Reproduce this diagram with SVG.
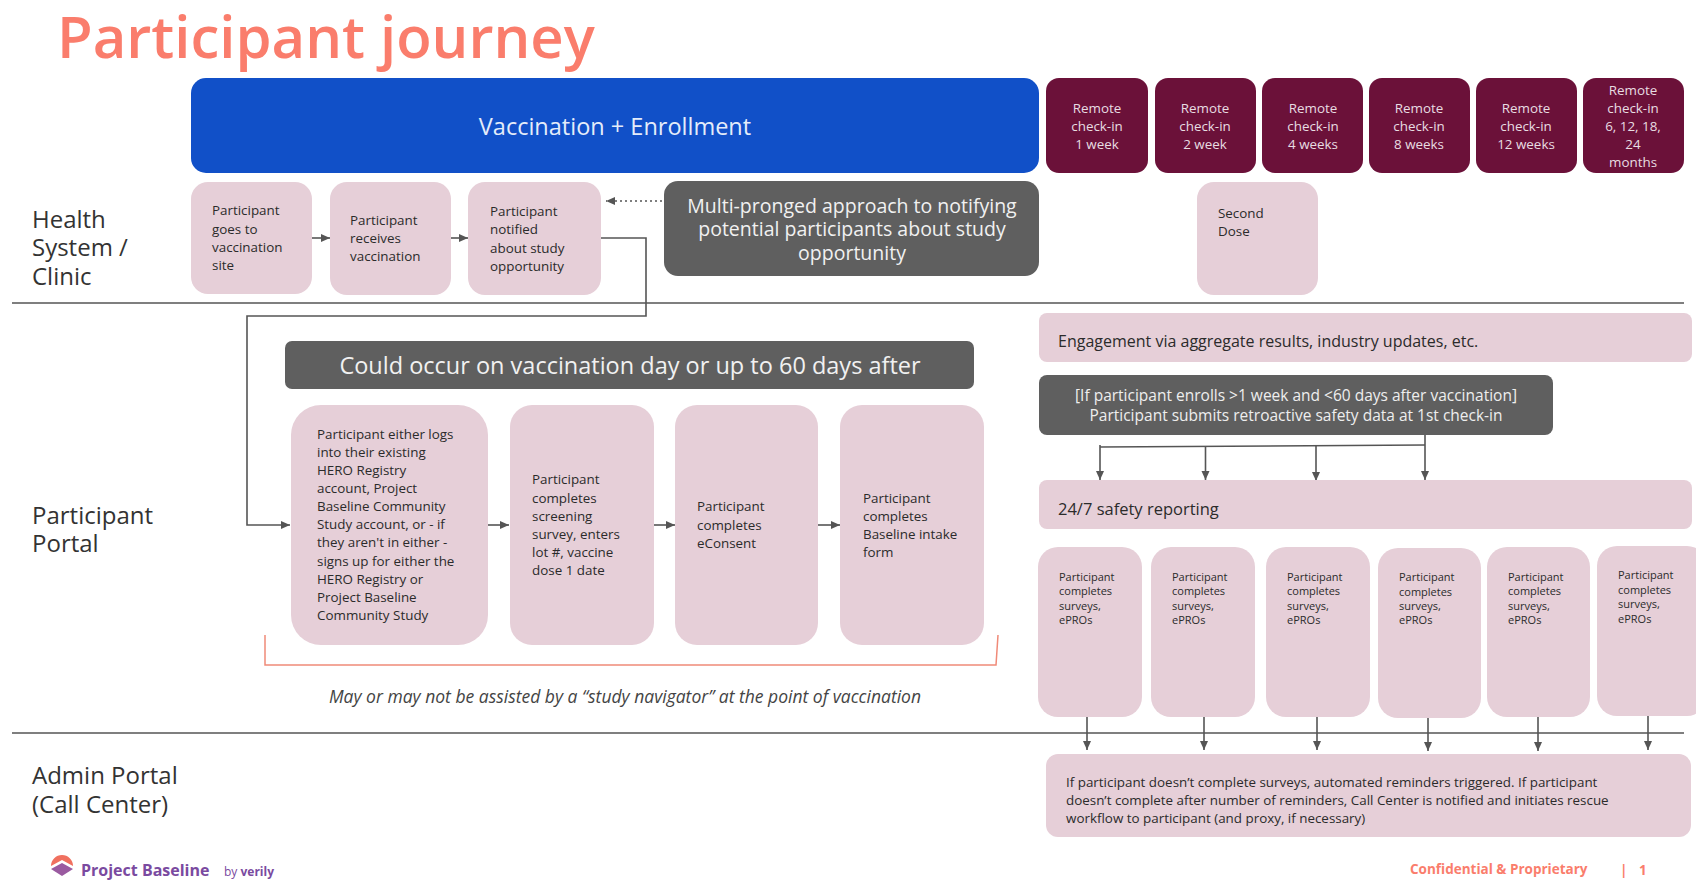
<svg xmlns="http://www.w3.org/2000/svg" width="1696" height="883" viewBox="0 0 1696 883">
<style>
text{font-family:"Open Sans","Noto Sans","Liberation Sans",sans-serif;fill:#2b2b2b}
.p{fill:#e6cfd8}.d{fill:#5f5f5f}.m{fill:#6b1139}
.w{fill:#f1f1f1}.t13{font-size:13.4px}.t11{font-size:11px}.t14{font-size:14.5px}
.lab{font-size:24px;fill:#333}
.c{fill:none;stroke:#555;stroke-width:1.6}
.ci{font-size:13.4px;fill:#e8dde2;text-anchor:middle}
</style>
<defs>
<marker id="a" markerUnits="userSpaceOnUse" markerWidth="10" markerHeight="10" refX="9" refY="4" orient="auto"><path d="M0 0L9 4L0 8Z" fill="#555"/></marker>
</defs>
<text x="57" y="58" font-size="58" font-weight="600" style="fill:#fa7d6c">Participant journey</text>
<g id="lanes"><path d="M12 303H1684M12 733H1684" stroke="#555" stroke-width="1.3" fill="none"/>
<text class="lab" x="32" y="228">Health</text><text class="lab" x="32" y="256">System /</text><text class="lab" x="32" y="285">Clinic</text>
<text class="lab" x="32" y="524">Participant</text><text class="lab" x="32" y="552">Portal</text>
<text class="lab" x="32" y="784">Admin Portal</text><text class="lab" x="32" y="813">(Call Center)</text></g>
<g id="connectors">
<path class="c" marker-end="url(#a)" d="M311 238H330"/>
<path class="c" marker-end="url(#a)" d="M451 238H468"/>
<path class="c" stroke-dasharray="2 3" marker-end="url(#a)" d="M662 201H606"/>
<path class="c" marker-end="url(#a)" d="M601 238H646V316H247V525H290"/>
<path class="c" marker-end="url(#a)" d="M488 525H509"/>
<path class="c" marker-end="url(#a)" d="M653 525H675"/>
<path class="c" marker-end="url(#a)" d="M818 525H840"/>
<path class="c" marker-end="url(#a)" d="M1425 434V480"/>
<path class="c" d="M1100 447L1425 445"/>
<path class="c" marker-end="url(#a)" d="M1100 445V480"/>
<path class="c" marker-end="url(#a)" d="M1205.500 447V480"/>
<path class="c" marker-end="url(#a)" d="M1316 446V481"/>
<path class="c" marker-end="url(#a)" d="M1087 716V750"/>
<path class="c" marker-end="url(#a)" d="M1204 716V750"/>
<path class="c" marker-end="url(#a)" d="M1317 716V750"/>
<path class="c" marker-end="url(#a)" d="M1428 716V751"/>
<path class="c" marker-end="url(#a)" d="M1538 716V751"/>
<path class="c" marker-end="url(#a)" d="M1648 716V750"/>
<path d="M265 635V665H996L998 635" fill="none" stroke="#f08a78" stroke-width="1.5"/>
</g>
<g id="vaccination"><rect x="191" y="78" width="848" height="95" rx="15" fill="#1150c8"/><text x="615" y="135" text-anchor="middle" font-size="23.500" style="fill:#e4ecfa">Vaccination + Enrollment</text></g>
<g id="ci1"><rect class="m" x="1046" y="78" width="102" height="95" rx="13"/><text class="ci"><tspan x="1097" y="113">Remote</tspan><tspan x="1097" y="131">check-in</tspan><tspan x="1097" y="149">1 week</tspan></text></g>
<g id="ci2"><rect class="m" x="1155" y="78" width="101" height="95" rx="13"/><text class="ci"><tspan x="1205" y="113">Remote</tspan><tspan x="1205" y="131">check-in</tspan><tspan x="1205" y="149">2 week</tspan></text></g>
<g id="ci3"><rect class="m" x="1262" y="78" width="101" height="95" rx="13"/><text class="ci"><tspan x="1313" y="113">Remote</tspan><tspan x="1313" y="131">check-in</tspan><tspan x="1313" y="149">4 weeks</tspan></text></g>
<g id="ci4"><rect class="m" x="1369" y="78" width="101" height="95" rx="13"/><text class="ci"><tspan x="1419" y="113">Remote</tspan><tspan x="1419" y="131">check-in</tspan><tspan x="1419" y="149">8 weeks</tspan></text></g>
<g id="ci5"><rect class="m" x="1476" y="78" width="101" height="95" rx="13"/><text class="ci"><tspan x="1526" y="113">Remote</tspan><tspan x="1526" y="131">check-in</tspan><tspan x="1526" y="149">12 weeks</tspan></text></g>
<g id="ci6"><rect class="m" x="1583" y="78" width="101" height="95" rx="13"/><text class="ci"><tspan x="1633" y="95">Remote</tspan><tspan x="1633" y="113">check-in</tspan><tspan x="1633" y="131">6, 12, 18,</tspan><tspan x="1633" y="149">24</tspan><tspan x="1633" y="167">months</tspan></text></g>
<g id="n1"><rect class="p" x="191" y="182" width="121" height="112" rx="17"/><text class="t13"><tspan x="212" y="215">Participant</tspan><tspan x="212" y="234">goes to</tspan><tspan x="212" y="252">vaccination</tspan><tspan x="212" y="270">site</tspan></text></g>
<g id="n2"><rect class="p" x="330" y="182" width="121" height="113" rx="17"/><text class="t13"><tspan x="350" y="225">Participant</tspan><tspan x="350" y="243">receives</tspan><tspan x="350" y="261">vaccination</tspan></text></g>
<g id="n3"><rect class="p" x="468" y="182" width="133" height="113" rx="17"/><text class="t13"><tspan x="490" y="216">Participant</tspan><tspan x="490" y="234">notified</tspan><tspan x="490" y="253">about study</tspan><tspan x="490" y="271">opportunity</tspan></text></g>
<g id="notify"><rect class="d" x="664" y="181" width="375" height="95" rx="14"/><text font-size="19.500" text-anchor="middle" class="w" style="fill:#f1f1f1"><tspan x="852" y="213">Multi-pronged approach to notifying</tspan><tspan x="852" y="236">potential participants about study</tspan><tspan x="852" y="260">opportunity</tspan></text></g>
<g id="dose2"><rect class="p" x="1197" y="182" width="121" height="113" rx="17"/><text class="t13"><tspan x="1218" y="218">Second</tspan><tspan x="1218" y="236">Dose</tspan></text></g>
<g id="bar"><rect class="d" x="285" y="341" width="689" height="48" rx="7"/><text x="630" y="374" text-anchor="middle" font-size="23.500" style="fill:#f1f1f1">Could occur on vaccination day or up to 60 days after</text></g>
<g id="p1"><rect class="p" x="291" y="405" width="197" height="240" rx="30"/><text class="t13"><tspan x="317" y="439">Participant either logs</tspan><tspan x="317" y="457">into their existing</tspan><tspan x="317" y="475">HERO  Registry</tspan><tspan x="317" y="493">account, Project</tspan><tspan x="317" y="511">Baseline Community</tspan><tspan x="317" y="529">Study account,  or - if</tspan><tspan x="317" y="547">they aren't in either -</tspan><tspan x="317" y="566">signs up for either the</tspan><tspan x="317" y="584">HERO Registry or</tspan><tspan x="317" y="602">Project Baseline</tspan><tspan x="317" y="620">Community Study</tspan></text></g>
<g id="p2"><rect class="p" x="510" y="405" width="144" height="240" rx="22"/><text class="t13"><tspan x="532" y="484">Participant</tspan><tspan x="532" y="503">completes</tspan><tspan x="532" y="521">screening</tspan><tspan x="532" y="539">survey, enters</tspan><tspan x="532" y="557">lot #, vaccine</tspan><tspan x="532" y="575">dose 1 date</tspan></text></g>
<g id="p3"><rect class="p" x="675" y="405" width="143" height="240" rx="22"/><text class="t13"><tspan x="697" y="511">Participant</tspan><tspan x="697" y="530">completes</tspan><tspan x="697" y="548">eConsent</tspan></text></g>
<g id="p4"><rect class="p" x="840" y="405" width="144" height="240" rx="22"/><text class="t13"><tspan x="863" y="503">Participant</tspan><tspan x="863" y="521">completes</tspan><tspan x="863" y="539">Baseline intake</tspan><tspan x="863" y="557">form</tspan></text></g>
<text x="625" y="703" text-anchor="middle" font-size="17.500" font-style="italic" style="fill:#444">May or may not be assisted by a “study navigator” at the point of vaccination</text>
<g id="engage"><rect class="p" x="1039" y="313" width="653" height="49" rx="8"/><text x="1058" y="347" font-size="16">Engagement via aggregate results, industry updates, etc.</text></g>
<g id="retro"><rect class="d" x="1039" y="375" width="514" height="60" rx="8"/><text font-size="15.500" text-anchor="middle" style="fill:#eee"><tspan x="1296" y="401">[If participant enrolls &gt;1 week and &lt;60 days after vaccination]</tspan><tspan x="1296" y="421">Participant submits retroactive safety data at 1st check-in</tspan></text></g>
<g id="safety"><rect class="p" x="1039" y="480" width="653" height="49" rx="8"/><text x="1058" y="515" font-size="16.500">24/7 safety reporting</text></g>
<g id="s1"><rect class="p" x="1038" y="547" width="104" height="170" rx="20"/><text class="t11"><tspan x="1059" y="581">Participant</tspan><tspan x="1059" y="595">completes</tspan><tspan x="1059" y="610">surveys,</tspan><tspan x="1059" y="624">ePROs</tspan></text></g>
<g id="s2"><rect class="p" x="1151" y="547" width="104" height="170" rx="20"/><text class="t11"><tspan x="1172" y="581">Participant</tspan><tspan x="1172" y="595">completes</tspan><tspan x="1172" y="610">surveys,</tspan><tspan x="1172" y="624">ePROs</tspan></text></g>
<g id="s3"><rect class="p" x="1266" y="547" width="104" height="170" rx="20"/><text class="t11"><tspan x="1287" y="581">Participant</tspan><tspan x="1287" y="595">completes</tspan><tspan x="1287" y="610">surveys,</tspan><tspan x="1287" y="624">ePROs</tspan></text></g>
<g id="s4"><rect class="p" x="1378" y="548" width="103" height="170" rx="20"/><text class="t11"><tspan x="1399" y="581">Participant</tspan><tspan x="1399" y="596">completes</tspan><tspan x="1399" y="610">surveys,</tspan><tspan x="1399" y="624">ePROs</tspan></text></g>
<g id="s5"><rect class="p" x="1487" y="547" width="103" height="170" rx="20"/><text class="t11"><tspan x="1508" y="581">Participant</tspan><tspan x="1508" y="595">completes</tspan><tspan x="1508" y="610">surveys,</tspan><tspan x="1508" y="624">ePROs</tspan></text></g>
<g id="s6"><rect class="p" x="1597" y="546" width="110" height="170" rx="20"/><text class="t11"><tspan x="1618" y="579">Participant</tspan><tspan x="1618" y="594">completes</tspan><tspan x="1618" y="608">surveys,</tspan><tspan x="1618" y="623">ePROs</tspan></text></g>
<g id="admin"><rect class="p" x="1046" y="754" width="645" height="83" rx="12"/><text class="t13"><tspan x="1066" y="787">If participant doesn’t complete surveys, automated reminders triggered. If participant</tspan><tspan x="1066" y="805">doesn’t complete after number of reminders, Call Center is notified and initiates rescue</tspan><tspan x="1066" y="823">workflow to participant (and proxy, if necessary)</tspan></text></g>
<g id="footer">
<path d="M51 866a11 11 0 0 1 22 0l-11-6z" fill="#f0705f"/><path d="M51 869l11-6 11 6-11 7z" fill="#9a5aa0"/>
<text x="81" y="876" font-size="16" font-weight="700" style="fill:#7a4aa0">Project Baseline</text>
<text x="224" y="876" font-size="12" style="fill:#7a4aa0">by <tspan font-weight="700">verily</tspan></text>
<text x="1410" y="874" font-size="13.500" font-weight="700" style="fill:#fa7d6c">Confidential &amp; Proprietary</text>
<text x="1620" y="875" font-size="13.500" font-weight="700" style="fill:#fa7d6c">|</text>
<text x="1639" y="875" font-size="13.500" font-weight="700" style="fill:#fa7d6c">1</text>
</g>
</svg>
